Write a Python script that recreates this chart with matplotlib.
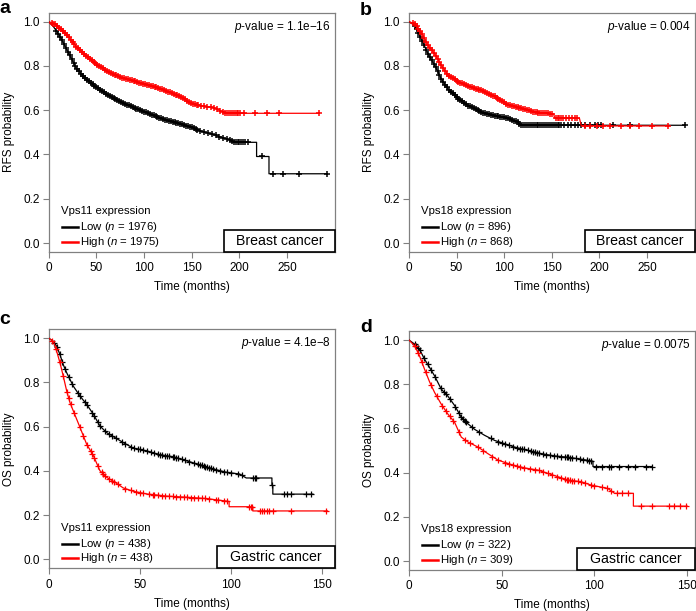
import matplotlib
matplotlib.use("Agg")
import matplotlib.pyplot as plt
import numpy as np
from matplotlib.patches import Rectangle

plt.rcParams['font.family'] = ['Liberation Sans', 'DejaVu Sans']
plt.rcParams['mathtext.fontset'] = 'custom'
plt.rcParams['mathtext.rm'] = 'Liberation Sans'
plt.rcParams['mathtext.it'] = 'Liberation Sans:italic'
plt.rcParams['font.size'] = 8.5

# ---- panel a: Vps11, breast cancer RFS ----
a_low_t = [0, 5, 12, 19, 29, 40, 50, 61, 75, 89, 100, 113, 125, 138, 150, 161, 173, 190, 194, 218, 218, 231, 231, 292]
a_low_s = [1.0, 0.977, 0.932, 0.872, 0.789, 0.737, 0.704, 0.672, 0.639, 0.612, 0.594, 0.571, 0.553, 0.538, 0.523,
           0.504, 0.489, 0.466, 0.455, 0.455, 0.391, 0.391, 0.313, 0.313]
a_low_c = [8, 10, 12, 14, 16, 18, 20, 22, 24, 26, 28, 30, 32, 34, 36, 38, 40, 42, 44, 46, 48, 50, 52, 54, 56, 58,
           60, 62, 64, 66, 68, 70, 72, 74, 76, 78, 80, 82, 84, 86, 88, 90, 92, 94, 96, 98, 100, 102, 104, 106,
           108, 110, 112, 114, 116, 118, 120, 122, 124, 126, 128, 130, 132, 134, 136, 138, 140, 142, 144, 146,
           148, 150, 152, 154, 156, 159, 163, 167, 171, 175, 179, 183, 187, 190, 192, 194, 196, 198, 200, 202,
           204, 206, 209, 224, 235, 246, 262, 292]
a_high_t = [0, 8, 19, 29, 40, 50, 61, 75, 89, 100, 113, 125, 138, 150, 159, 173, 182, 187, 283]
a_high_s = [1.0, 0.985, 0.94, 0.887, 0.842, 0.808, 0.777, 0.749, 0.732, 0.719, 0.704, 0.684, 0.662, 0.629, 0.620,
            0.612, 0.594, 0.586, 0.586]
a_high_c = [3, 5, 7, 9, 11, 13, 15, 17, 19, 21, 23, 25, 27, 29, 31, 33, 35, 37, 39, 41, 43, 45, 47, 49, 51, 53,
            55, 57, 59, 61, 63, 65, 67, 69, 71, 73, 75, 77, 79, 81, 83, 85, 87, 89, 91, 93, 95, 97, 99, 101, 103,
            105, 107, 109, 111, 113, 115, 117, 119, 121, 123, 125, 127, 129, 131, 133, 135, 137, 139, 141, 143,
            145, 147, 149, 151, 153, 155, 157, 160, 163, 166, 170, 173, 176, 180, 183, 185, 187, 189, 191, 193,
            195, 197, 199, 201, 205, 216, 229, 242, 283]

# ---- panel b: Vps18, breast cancer RFS ----
b_low_t = [0, 6, 13, 20, 27, 34, 41, 50, 62, 76, 90, 104, 114, 118, 290]
b_low_s = [1.0, 0.982, 0.922, 0.854, 0.802, 0.741, 0.696, 0.659, 0.621, 0.591, 0.576, 0.564, 0.546, 0.532, 0.532]
b_low_c = [6, 8, 10, 12, 14, 16, 18, 20, 22, 24, 26, 28, 30, 32, 34, 36, 38, 40, 42, 44, 46, 48, 50, 52, 54, 56,
           58, 60, 62, 64, 66, 68, 70, 72, 74, 76, 78, 80, 82, 84, 86, 88, 90, 92, 94, 96, 98, 100, 102, 104, 106,
           108, 110, 112, 114, 116, 118, 120, 122, 124, 126, 128, 130, 132, 134, 136, 138, 140, 142, 144, 146,
           148, 150, 152, 154, 156, 158, 160, 163, 167, 170, 174, 178, 181, 185, 190, 195, 199, 202, 214, 232,
           290]
b_high_t = [0, 6, 13, 20, 27, 34, 41, 50, 62, 76, 90, 104, 118, 132, 152, 153, 179, 181, 273]
b_high_s = [1.0, 0.989, 0.952, 0.892, 0.854, 0.802, 0.759, 0.733, 0.708, 0.689, 0.662, 0.624, 0.609, 0.591, 0.583,
            0.564, 0.564, 0.529, 0.529]
b_high_c = [4, 6, 8, 10, 12, 14, 16, 18, 20, 22, 24, 26, 28, 30, 32, 34, 36, 38, 40, 42, 44, 46, 48, 50, 52, 54,
            56, 58, 60, 62, 64, 66, 68, 70, 72, 74, 76, 78, 80, 82, 84, 86, 88, 90, 92, 94, 96, 98, 100, 102, 104,
            106, 108, 110, 112, 114, 116, 118, 120, 122, 124, 126, 128, 130, 132, 134, 136, 138, 140, 142, 144,
            146, 148, 150, 154, 156, 158, 160, 162, 165, 168, 171, 174, 177, 185, 190, 197, 204, 211, 223, 232,
            242, 255, 272]

# ---- panel c: Vps11, gastric cancer OS ----
c_low_t = [0, 2.6, 4.4, 6.2, 8, 9.9, 13.5, 17.2, 20.8, 24.5, 28.1, 31.8, 36.3, 40.9, 46.4, 53.6, 61, 68.2, 75.5,
           82.8, 90.1, 97.4, 104.7, 108.4, 122.5, 122.5, 123, 123, 145]
c_low_s = [1.0, 0.985, 0.963, 0.925, 0.880, 0.843, 0.783, 0.738, 0.701, 0.656, 0.603, 0.573, 0.551, 0.528, 0.503,
           0.491, 0.473, 0.464, 0.446, 0.428, 0.409, 0.394, 0.386, 0.368, 0.368, 0.334, 0.334, 0.295, 0.295]
c_low_c = [3, 4.5, 6, 7.5, 9, 11, 13, 16, 17, 20, 21, 24, 25, 27, 28, 31, 33, 35, 37, 40, 42, 45, 47, 49, 50,
           52, 54, 56, 58, 60, 61, 62, 64, 65, 66, 68, 69, 70, 71, 73, 75, 77, 80, 82, 83, 84, 85, 86, 87, 88,
           89, 90, 92, 94, 96, 98, 100, 104, 106, 112, 113, 114, 122.8, 129, 131, 133, 141, 144]
c_high_t = [0, 2.6, 4.4, 6.2, 8, 9.9, 11.7, 13.5, 17.2, 20.8, 24.5, 28.1, 31.8, 36.3, 40.9, 46.4, 53.6, 64.6,
            75.5, 86.5, 99, 99, 112, 112, 153]
c_high_s = [1.0, 0.985, 0.94, 0.888, 0.828, 0.76, 0.708, 0.671, 0.596, 0.521, 0.469, 0.401, 0.371, 0.349, 0.323,
            0.308, 0.296, 0.286, 0.281, 0.275, 0.262, 0.238, 0.238, 0.219, 0.219]
c_high_c = [2, 4, 6, 8, 10, 11, 12, 14, 17, 19, 21, 23, 24, 25, 27, 29, 30, 31, 33, 35, 36, 38, 42, 45, 48, 50,
            52, 55, 57, 58, 60, 62, 64, 66, 68, 70, 72, 74, 76, 78, 80, 82, 84, 86, 88, 92, 93, 96, 98, 110,
            110.8, 111.5, 116, 117, 118, 120, 121, 123, 133, 152]

# ---- panel d: Vps18, gastric cancer OS ----
d_low_t = [0, 3.1, 5.7, 8.4, 11.1, 13.8, 17.4, 21, 24.6, 28.2, 31.8, 35.4, 40.8, 46.2, 51.6, 56.9, 64.1, 71.3,
           78.5, 85.7, 92.9, 99.2, 99.2, 131]
d_low_s = [1.0, 0.981, 0.958, 0.913, 0.876, 0.838, 0.778, 0.746, 0.704, 0.651, 0.621, 0.596, 0.569, 0.546, 0.531,
           0.516, 0.501, 0.486, 0.476, 0.470, 0.461, 0.452, 0.428, 0.428]
d_low_c = [3, 4, 5, 6, 8, 10, 12, 14, 17, 19, 20, 22, 25, 27, 28, 29, 30, 31, 34, 38, 44, 48, 50, 52, 54, 56, 58,
           60, 61, 62, 64, 66, 67, 68, 69, 70, 72, 74, 76, 78, 80, 82, 84, 85, 86, 87, 88, 90, 92, 94, 96, 97, 98,
           101, 104, 108, 109, 113, 118, 122, 128, 131]
d_high_t = [0, 3.1, 5.7, 8.4, 11.1, 13.8, 17.4, 21, 24.6, 28.2, 31.8, 37.2, 42.6, 48, 55.1, 62.3, 69.5, 74.9,
            80.3, 85.7, 92.9, 98.3, 107.2, 110.8, 121, 121, 150]
d_high_s = [1.0, 0.973, 0.928, 0.868, 0.811, 0.763, 0.710, 0.665, 0.628, 0.561, 0.539, 0.516, 0.486, 0.457, 0.437,
            0.422, 0.412, 0.397, 0.382, 0.367, 0.359, 0.344, 0.329, 0.307, 0.307, 0.249, 0.249]
d_high_c = [3, 5, 7, 9, 12, 15, 18, 20, 22, 24, 27, 30, 33, 37, 40, 45, 48, 52, 54, 56, 58, 60, 62, 65, 68, 70,
            72, 75, 77, 80, 82, 84, 85, 86, 87, 88, 89, 91, 93, 95, 98, 100, 104, 107, 109, 112, 115, 118, 125,
            131, 140, 143, 146, 149.5]

panel_letters = ['a', 'b', 'c', 'd']
genes = ['Vps11', 'Vps18', 'Vps11', 'Vps18']
n_low = [1976, 896, 438, 322]
n_high = [1975, 868, 438, 309]
pvalues = ['1.1e\u221216', '0.004', '4.1e\u22128', '0.0075']
cancers = ['Breast cancer', 'Breast cancer', 'Gastric cancer', 'Gastric cancer']
ylabels = ['RFS probability', 'RFS probability', 'OS probability', 'OS probability']
xmaxes = [300, 300, 157, 154]
xtick_sets = [[0, 50, 100, 150, 200, 250], [0, 50, 100, 150, 200, 250], [0, 50, 100, 150], [0, 50, 100, 150]]

curves = [
    (a_low_t, a_low_s, a_low_c, a_high_t, a_high_s, a_high_c),
    (b_low_t, b_low_s, b_low_c, b_high_t, b_high_s, b_high_c),
    (c_low_t, c_low_s, c_low_c, c_high_t, c_high_s, c_high_c),
    (d_low_t, d_low_s, d_low_c, d_high_t, d_high_s, d_high_c),
]

# layout (figure fractions)
positions = [
    [0.070, 0.5876, 0.411, 0.3916],
    [0.5876, 0.5876, 0.4104, 0.3916],
    [0.070, 0.070, 0.411, 0.391],
    [0.5876, 0.067, 0.4104, 0.391],
]
box_left = [0.612, 0.617, 0.589, 0.589]
marker_size = [4.5, 4.5, 4.8, 4.8]
marker_width = [1.1, 1.1, 0.9, 0.9]
letter_xy = [(-0.001, 0.978), (0.517, 0.975), (-0.001, 0.469), (0.517, 0.457)]

GREY = '#808080'
RED = '#ff0000'

fig = plt.figure(figsize=(6.96, 6.11), dpi=100)

for i in range(4):
    ax = fig.add_axes(positions[i])
    lt, ls, lc, ht, hs, hc = curves[i]
    for t, s, c, col in ((lt, ls, lc, 'black'), (ht, hs, hc, RED)):
        ax.plot(t, s, color=col, lw=0.9, zorder=3)
        ax.plot(c, np.interp(c, t, s), ls='none', marker='+', ms=marker_size[i], mew=marker_width[i],
                color=col, zorder=3)

    ax.set_xlim(0, xmaxes[i])
    ax.set_ylim(-0.04, 1.04)
    ax.set_xticks(xtick_sets[i])
    ax.set_yticks([0.0, 0.2, 0.4, 0.6, 0.8, 1.0])
    ax.set_yticklabels(['0.0', '0.2', '0.4', '0.6', '0.8', '1.0'])
    for sp in ax.spines.values():
        sp.set_color(GREY)
        sp.set_linewidth(0.9)
    ax.tick_params(direction='out', length=4.5, width=0.8, color=GREY, labelsize=8.5)
    ax.tick_params(axis='x', pad=3)
    ax.tick_params(axis='y', pad=2)
    ax.set_xlabel('Time (months)', fontsize=8.5, labelpad=5)
    ax.set_ylabel(ylabels[i], fontsize=8.5, labelpad=6)

    ax.text(0.985, 0.975, '$p$-value = ' + pvalues[i], transform=ax.transAxes,
            ha='right', va='top', fontsize=8.5)

    # cancer type box in the lower right corner
    bh = 0.093
    ax.add_patch(Rectangle((box_left[i], 0), 1 - box_left[i], bh, transform=ax.transAxes,
                           fc='white', ec='black', lw=1.2, zorder=5, clip_on=False))
    ax.text((box_left[i] + 1) / 2, bh / 2, cancers[i], transform=ax.transAxes, ha='center',
            va='center', fontsize=10.2, zorder=6)

    # legend drawn by hand
    ax.text(0.042, 0.170, genes[i] + ' expression', transform=ax.transAxes, ha='left', va='center',
            fontsize=8.2)
    for yy, col, lab in ((0.103, 'black', 'Low ($n$ = %d)' % n_low[i]),
                         (0.042, RED, 'High ($n$ = %d)' % n_high[i])):
        ax.plot([0.046, 0.101], [yy, yy], color=col, lw=1.8, transform=ax.transAxes, zorder=4)
        ax.text(0.110, yy, lab, transform=ax.transAxes, ha='left', va='center', fontsize=8.2)

    fig.text(letter_xy[i][0], letter_xy[i][1], panel_letters[i], fontsize=14, fontweight='bold',
             ha='left', va='baseline')

fig.savefig('out.png', dpi=100)
